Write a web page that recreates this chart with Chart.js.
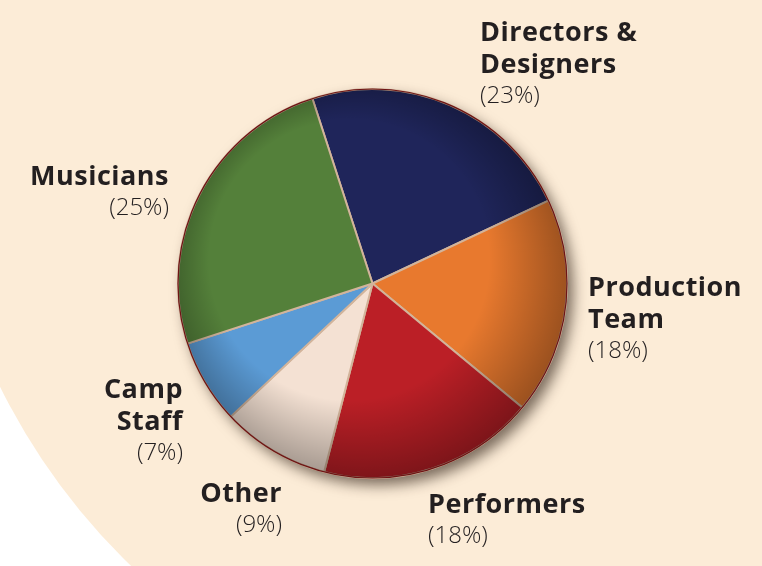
<!DOCTYPE html>
<html>
<head>
<meta charset="utf-8">
<script src="https://cdn.jsdelivr.net/npm/chart.js@4"></script>
<style>
  html, body { margin: 0; padding: 0; background: #fff; }
  #wrap { width: 762px; height: 566px; }
</style>
</head>
<body>
<div id="wrap"><canvas id="pie"></canvas></div>
<script>
// slices, clockwise from the top
const categories = ['Directors & Designers', 'Production Team', 'Performers', 'Other', 'Camp Staff', 'Musicians'];
const shares = [23, 18, 18, 9, 7, 25];
const labelLines = [['Directors &', 'Designers'], ['Production', 'Team'], ['Performers'], ['Other'], ['Camp', 'Staff'], ['Musicians']];
const sliceColors = ['#1f255a', '#e8792e', '#bb1f26', '#f4e1d3', '#5b9bd5', '#54803a'];

// where each label block sits (first baseline)
const labelPos = [
  {x: 480, y: 41, align: 'left'},
  {x: 588, y: 296, align: 'left'},
  {x: 428, y: 513, align: 'left'},
  {x: 282, y: 502, align: 'right'},
  {x: 183, y: 398, align: 'right'},
  {x: 169, y: 185, align: 'right'}
];

const decor = {
  id: 'decor',
  beforeDraw(chart) {
    const ctx = chart.ctx;
    ctx.save();
    ctx.fillStyle = '#ffffff';
    ctx.fillRect(0, 0, chart.width, chart.height);
    ctx.fillStyle = '#fcecd7';
    ctx.beginPath();
    ctx.arc(580, 100, 647, 0, Math.PI * 2);
    ctx.fill();
    ctx.restore();
  },
  beforeDatasetsDraw(chart) {
    const ctx = chart.ctx;
    const {x, y, outerRadius} = chart.getDatasetMeta(0).data[0];
    ctx.save();
    ctx.shadowColor = 'rgba(50,35,25,0.65)';
    ctx.shadowBlur = 14;
    ctx.shadowOffsetX = 6;
    ctx.shadowOffsetY = 7;
    ctx.fillStyle = '#555';
    ctx.beginPath();
    ctx.arc(x, y, outerRadius, 0, Math.PI * 2);
    ctx.fill();
    ctx.restore();
  },
  afterDatasetsDraw(chart) {
    const ctx = chart.ctx;
    const {x, y, outerRadius: r} = chart.getDatasetMeta(0).data[0];
    ctx.save();
    // rim shading for the dome look
    const g = ctx.createRadialGradient(x - r * 0.12, y - r * 0.12, r * 0.72, x - r * 0.04, y - r * 0.04, r * 1.04);
    g.addColorStop(0, 'rgba(0,0,0,0)');
    g.addColorStop(1, 'rgba(0,0,0,0.32)');
    ctx.fillStyle = g;
    ctx.beginPath();
    ctx.arc(x, y, r, 0, Math.PI * 2);
    ctx.fill();
    ctx.strokeStyle = '#6e1414';
    ctx.lineWidth = 1.2;
    ctx.stroke();

    // labels
    ctx.fillStyle = '#231f20';
    ctx.textBaseline = 'alphabetic';
    labelLines.forEach((lines, i) => {
      const p = labelPos[i];
      ctx.textAlign = p.align;
      ctx.font = '700 27px "Open Sans"';
      ctx.letterSpacing = '0.5px';
      let yy = p.y;
      lines.forEach((t, k) => {
        if (k > 0) yy += 32;
        ctx.fillText(t, p.x, yy);
      });
      ctx.font = '300 24px "Open Sans"';
      ctx.letterSpacing = '0px';
      ctx.fillText('(' + shares[i] + '%)', p.x, yy + 30);
    });
    ctx.restore();
  }
};

new Chart(document.getElementById('pie'), {
  type: 'pie',
  data: {
    labels: categories,
    datasets: [{
      data: shares,
      backgroundColor: sliceColors,
      borderColor: '#d2b49b',
      borderWidth: 2
    }]
  },
  options: {
    responsive: true,
    maintainAspectRatio: false,
    animation: false,
    rotation: -18,
    layout: { padding: { left: 177, right: 194, top: 88, bottom: 87 } },
    plugins: {
      legend: { display: false },
      tooltip: { enabled: false }
    }
  },
  plugins: [decor]
});
</script>
</body>
</html>
